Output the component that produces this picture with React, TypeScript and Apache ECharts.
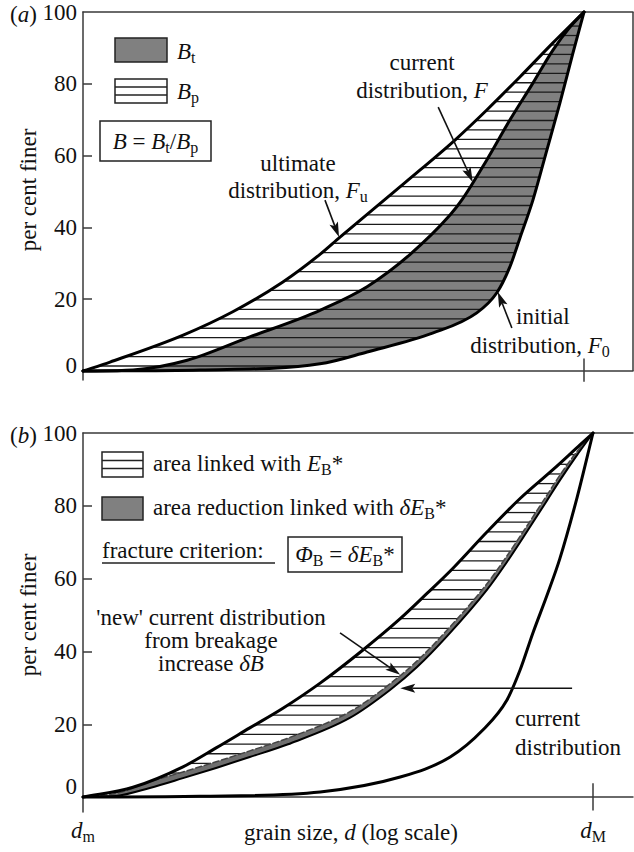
import React, { useEffect, useRef } from 'react';
import * as echarts from 'echarts';

const FONT = 'Liberation Serif, serif';
const INK = '#111';
const AXIS = '#3a3a3a';
const GREY = '#808080';

// ---------- panel (a): x is position between d_m (0) and d_M (1) on the log scale ----------
const aUltX = [0, 0.054, 0.2, 0.299, 0.399, 0.473, 0.513, 0.619, 0.673, 0.743, 0.806, 0.872, 0.938, 1];
const aUltY = [0, 2.5, 10, 16.5, 24.8, 32.5, 37.3, 49.7, 56, 64.4, 72.7, 81.9, 91.4, 100];
const aCurX = [0, 0.1, 0.208, 0.333, 0.433, 0.473, 0.567, 0.653, 0.733, 0.758, 0.806, 0.852, 0.898, 0.938, 0.972, 1];
const aCurY = [0, 0.3, 3, 9.5, 14.6, 16.9, 23.5, 32.5, 43.5, 48, 58.8, 69.9, 80.2, 89.4, 95.8, 100];
const aIniX = [0, 0.234, 0.473, 0.567, 0.699, 0.786, 0.826, 0.852, 0.872, 0.898, 0.926, 0.952, 0.978, 1];
const aIniY = [0, 0.3, 2, 5.3, 10.6, 16.2, 21.8, 29, 37, 47.6, 61.6, 74.7, 88.6, 100];

// ---------- panel (b) ----------
const bUpX = [0, 0.098, 0.196, 0.261, 0.327, 0.392, 0.465, 0.549, 0.622, 0.675, 0.725, 0.792, 0.857, 0.922, 0.975, 1];
const bUpY = [0, 2.7, 8.3, 13.5, 19, 24.4, 31.3, 40.4, 49, 56, 62.8, 72.8, 82, 90, 96.8, 100];
const bNewX = [0, 0.065, 0.131, 0.196, 0.261, 0.327, 0.402, 0.524, 0.602, 0.655, 0.714, 0.792, 0.831, 0.871, 0.91, 0.935, 0.969, 1];
const bNewY = [0, 0.3, 2.5, 5.2, 8, 11, 14.5, 21.8, 29.4, 35.7, 44.2, 56.9, 64.5, 73, 81.5, 87, 94, 100];
const bNewTopY = [0, 1, 4.2, 6.9, 9.7, 12.7, 16.2, 23.5, 31.1, 37.4, 45.9, 58.6, 66.2, 74.6, 83, 88.4, 95, 100];
const bCurX = [0, 0.229, 0.465, 0.622, 0.72, 0.784, 0.831, 0.857, 0.882, 0.91, 0.935, 0.969, 1];
const bCurY = [0, 0.2, 1.4, 5.5, 11, 18.4, 26.6, 34.9, 45, 55.5, 65.5, 82.4, 100];

const yTickLabels = [0, 20, 40, 60, 80, 100];
const yTickMarks = [20, 40, 60, 80];
const xEnds = [0, 1]; // d_m, d_M

// annotation arrows [from, to] in data coordinates
const aArrows = [
  [[0.709, 73.5], [0.778, 52.6]],
  [[0.483, 47.6], [0.511, 37.3]],
  [[0.856, 12], [0.828, 22]],
];
const bArrows = [
  [[0.504, 45.1], [0.622, 33.6]],
  [[0.959, 29.9], [0.622, 29.9]],
];

const X_MAX_A = 550 / 501;
const X_MAX_B = 550 / 510;

// ---------- smooth (monotone cubic) rendering helpers, in pixel space ----------
type Curve = { px: number[]; py: number[]; m: number[] };
function mono(px: number[], py: number[]) {
  const n = px.length;
  const d: number[] = [];
  const m: number[] = new Array(n).fill(0);
  for (let k = 0; k < n - 1; k++) d[k] = (py[k + 1] - py[k]) / (px[k + 1] - px[k]);
  m[0] = d[0];
  m[n - 1] = d[n - 2];
  for (let k = 1; k < n - 1; k++) m[k] = d[k - 1] * d[k] <= 0 ? 0 : (d[k - 1] + d[k]) / 2;
  for (let k = 0; k < n - 1; k++) {
    if (d[k] === 0) { m[k] = 0; m[k + 1] = 0; continue; }
    const a = m[k] / d[k], b = m[k + 1] / d[k];
    const s = a * a + b * b;
    if (s > 9) { const t = 3 / Math.sqrt(s); m[k] = t * a * d[k]; m[k + 1] = t * b * d[k]; }
  }
  return m;
}
function build(api: any, xs: number[], ys: number[]): Curve {
  const pts = xs.map((x, i) => api.coord([x, ys[i]]));
  const px = pts.map((p: number[]) => p[0]);
  const py = pts.map((p: number[]) => p[1]);
  return { px, py, m: mono(px, py) };
}
function ctrl(c: Curve, k: number) {
  const h = c.px[k + 1] - c.px[k];
  return [c.px[k] + h / 3, c.py[k] + (c.m[k] * h) / 3, c.px[k + 1] - h / 3, c.py[k + 1] - (c.m[k + 1] * h) / 3];
}
const f = (v: number) => v.toFixed(2);
function fwd(c: Curve) {
  let s = '';
  for (let k = 0; k < c.px.length - 1; k++) {
    const [a, b, e, g] = ctrl(c, k);
    s += `C${f(a)},${f(b)} ${f(e)},${f(g)} ${f(c.px[k + 1])},${f(c.py[k + 1])}`;
  }
  return s;
}
function bwd(c: Curve) {
  let s = '';
  for (let k = c.px.length - 2; k >= 0; k--) {
    const [a, b, e, g] = ctrl(c, k);
    s += `C${f(e)},${f(g)} ${f(a)},${f(b)} ${f(c.px[k])},${f(c.py[k])}`;
  }
  return s;
}
const lineD = (c: Curve) => `M${f(c.px[0])},${f(c.py[0])}` + fwd(c);
function bandD(lo: Curve, hi: Curve) {
  const n = hi.px.length - 1;
  return `M${f(lo.px[0])},${f(lo.py[0])}` + fwd(lo) + `L${f(hi.px[n])},${f(hi.py[n])}` + bwd(hi) + 'Z';
}
function herm(y0: number, y1: number, m0: number, m1: number, h: number, t: number) {
  const t2 = t * t, t3 = t2 * t;
  return (2 * t3 - 3 * t2 + 1) * y0 + (t3 - 2 * t2 + t) * h * m0 + (-2 * t3 + 3 * t2) * y1 + (t3 - t2) * h * m1;
}
function xAtPixY(c: Curve, y: number) {
  for (let k = 0; k < c.px.length - 1; k++) {
    const y0 = c.py[k], y1 = c.py[k + 1];
    if (y0 !== y1 && (y - y0) * (y - y1) <= 0) {
      const h = c.px[k + 1] - c.px[k];
      let lo = 0, hi = 1;
      const s0 = y0 - y;
      for (let it = 0; it < 40; it++) {
        const mid = (lo + hi) / 2;
        const v = herm(y0, y1, c.m[k], c.m[k + 1], h, mid) - y;
        if (v * s0 > 0) lo = mid; else hi = mid;
      }
      return c.px[k] + ((lo + hi) / 2) * h;
    }
  }
  return c.px[c.px.length - 1];
}
function hatch(api: any, left: Curve, right: Curve, start: number, step: number) {
  const out: any[] = [];
  for (let h = start; h < 99.6; h += step) {
    const y = api.coord([0, h])[1];
    const x1 = xAtPixY(left, y), x2 = xAtPixY(right, y);
    if (x2 > x1) out.push({ type: 'line', shape: { x1, y1: y, x2, y2: y }, style: { stroke: '#1a1a1a', lineWidth: 1.3 } });
  }
  return out;
}
function arrowShapes(api: any, from: number[], to: number[]) {
  const p1 = api.coord(from), p2 = api.coord(to);
  const dx = p2[0] - p1[0], dy = p2[1] - p1[1];
  const Ln = Math.hypot(dx, dy);
  const ux = dx / Ln, uy = dy / Ln, nx = -uy, ny = ux;
  const len = 15, hw = 4.5, notch = 12;
  const bx = p2[0] - ux * len, by = p2[1] - uy * len;
  const mx = p2[0] - ux * notch, my = p2[1] - uy * notch;
  return [
    { type: 'line', shape: { x1: p1[0], y1: p1[1], x2: mx, y2: my }, style: { stroke: INK, lineWidth: 1.6 } },
    { type: 'polygon', shape: { points: [[p2[0], p2[1]], [bx + nx * hw, by + ny * hw], [mx, my], [bx - nx * hw, by - ny * hw]] }, style: { fill: INK } },
  ];
}
function seg(api: any, a: number[], b: number[], style: any) {
  const p1 = api.coord(a), p2 = api.coord(b);
  return { type: 'line', shape: { x1: p1[0], y1: p1[1], x2: p2[0], y2: p2[1] }, style };
}
const stroke = (c: Curve, width: number, color = '#000', dash?: number[]) => ({
  type: 'path', shape: { pathData: lineD(c) },
  style: { fill: 'none', stroke: color, lineWidth: width, lineDash: dash, lineJoin: 'round', lineCap: 'round' },
});

const RICH: any = {
  i: { fontFamily: FONT, fontSize: 23, fontStyle: 'italic', fill: INK },
  s: { fontFamily: FONT, fontSize: 16, fill: INK, padding: [12, 0, 0, 0] },
};
const T = (x: number, y: number, text: string, align = 'left', extra: any = {}) => ({
  type: 'text', x, y, silent: true, z: 10,
  style: { text, fontFamily: FONT, fontSize: 23, fill: INK, align, verticalAlign: 'middle', rich: RICH },
  ...extra,
});
const R = (x: number, y: number, w: number, h: number, fill: string) => ({
  type: 'rect', silent: true, z: 10, shape: { x, y, width: w, height: h }, style: { fill, stroke: '#222', lineWidth: 1.5 },
});
const L = (x1: number, y1: number, x2: number, y2: number, w = 1.5) => ({
  type: 'line', silent: true, z: 11, shape: { x1, y1, x2, y2 }, style: { stroke: '#222', lineWidth: w },
});

const axisLineStyle = { color: AXIS, width: 1.5 };

function yAxisCfg(gridIndex: number, min: number, zeroLift: number) {
  return {
    gridIndex, type: 'value', min, max: 100,
    axisLine: { show: true, lineStyle: axisLineStyle },
    axisTick: { show: true, inside: true, length: 9, customValues: yTickMarks, lineStyle: axisLineStyle },
    axisLabel: {
      show: true, customValues: yTickLabels, margin: 6, fontFamily: FONT, fontSize: 23, color: INK,
      formatter: (v: number) => (v === 0 ? '{z|0}' : String(v)),
      rich: { z: { fontFamily: FONT, fontSize: 23, color: INK, padding: [0, 0, zeroLift, 0] } },
    },
    splitLine: { show: false },
  };
}
function plainX(gridIndex: number, max: number, position: string, onZero: boolean) {
  return {
    gridIndex, type: 'value', min: 0, max, position,
    axisLine: { show: true, onZero, lineStyle: axisLineStyle },
    axisTick: { show: false }, axisLabel: { show: false }, splitLine: { show: false },
  };
}

export default function App() {
  const ref = useRef<HTMLDivElement>(null);
  useEffect(() => {
    document.body.style.margin = '0';
    const chart = echarts.init(ref.current!, null, { renderer: 'svg' });

    const panelA = (params: any, api: any) => {
      const U = build(api, aUltX, aUltY);
      const F = build(api, aCurX, aCurY);
      const F0 = build(api, aIniX, aIniY);
      const children: any[] = [
        { type: 'path', shape: { pathData: bandD(F, F0) }, style: { fill: GREY, stroke: 'none' } },
        ...hatch(api, U, F0, 1.4, 2.63),
        stroke(U, 3), stroke(F, 3), stroke(F0, 3),
        seg(api, [X_MAX_A, 0], [X_MAX_A, 100], { stroke: AXIS, lineWidth: 1.5 }),
        seg(api, [1, -3], [1, 3.5], { stroke: AXIS, lineWidth: 1.5 }),
      ];
      aArrows.forEach((a) => children.push(...arrowShapes(api, a[0], a[1])));
      return { type: 'group', children };
    };
    const panelB = (params: any, api: any) => {
      const U = build(api, bUpX, bUpY);
      const N = build(api, bNewX, bNewY);
      const NT = build(api, bNewX, bNewTopY);
      const C = build(api, bCurX, bCurY);
      const children: any[] = [
        { type: 'path', shape: { pathData: bandD(N, NT) }, style: { fill: '#6e6e6e', stroke: 'none' } },
        ...hatch(api, U, NT, 1.3, 2.65),
        stroke(NT, 1.5, '#444', [6, 3]),
        stroke(N, 2),
        stroke(U, 3),
        stroke(C, 3),
        seg(api, [1, -3.7], [1, 3.8], { stroke: AXIS, lineWidth: 1.5 }),
      ];
      bArrows.forEach((a) => children.push(...arrowShapes(api, a[0], a[1])));
      return { type: 'group', children };
    };

    const option: any = {
      animation: false,
      backgroundColor: '#fff',
      grid: [
        { left: 83, top: 12, width: 550, height: 368, outerBoundsMode: 'none' },
        { left: 83, top: 433, width: 550, height: 379, outerBoundsMode: 'none' },
      ],
      xAxis: [
        plainX(0, X_MAX_A, 'bottom', true),
        plainX(0, X_MAX_A, 'top', false),
        {
          gridIndex: 1, type: 'value', min: 0, max: X_MAX_B, position: 'bottom',
          axisLine: { show: true, onZero: true, lineStyle: axisLineStyle },
          axisTick: { show: false },
          axisLabel: {
            show: true, customValues: xEnds, margin: 4, fontFamily: FONT, fontSize: 23, color: INK,
            formatter: (v: number) => (v === 0 ? '{i|d}{s|m}' : '{i|d}{s|M}'),
            rich: {
              i: { fontFamily: FONT, fontSize: 23, fontStyle: 'italic', color: INK },
              s: { fontFamily: FONT, fontSize: 16, color: INK, padding: [12, 0, 0, 0] },
            },
          },
          splitLine: { show: false },
        },
        plainX(1, X_MAX_B, 'top', false),
      ],
      yAxis: [yAxisCfg(0, -2.5, 12), yAxisCfg(1, -4.1, 22)],
      series: [
        { name: 'grading curves (a)', type: 'custom', xAxisIndex: 0, yAxisIndex: 0, data: [[0, 0]], renderItem: panelA, silent: true, z: 2, clip: false },
        { name: 'grading curves (b)', type: 'custom', xAxisIndex: 2, yAxisIndex: 1, data: [[0, 0]], renderItem: panelB, silent: true, z: 2, clip: false },
      ],
      graphic: [
        // panel (a)
        T(10, 14, '({i|a})'),
        T(28, 190, 'per cent finer', 'center', { rotation: Math.PI / 2 }),
        R(115, 38, 52, 24, GREY),
        T(177, 51, '{i|B}{s|t}'),
        R(115, 79, 52, 24, '#fff'),
        L(115, 87, 167, 87, 1.3),
        L(115, 95, 167, 95, 1.3),
        T(177, 91, '{i|B}{s|p}'),
        R(100, 121, 111, 40, 'rgba(0,0,0,0)'),
        T(155.5, 141, '{i|B} = {i|B}{s|t}/{i|B}{s|p}', 'center'),
        T(422, 62, 'current', 'center'),
        T(422, 90, 'distribution, {i|F}', 'center'),
        T(298, 163, 'ultimate', 'center'),
        T(298, 190, 'distribution, {i|F}{s|u}', 'center'),
        T(516, 316, 'initial'),
        T(540, 345, 'distribution, {i|F}{s|0}', 'center'),
        // panel (b)
        T(10, 435, '({i|b})'),
        T(28, 615, 'per cent finer', 'center', { rotation: Math.PI / 2 }),
        R(102, 452, 41, 25, '#fff'),
        L(102, 460.5, 143, 460.5, 1.3),
        L(102, 468.5, 143, 468.5, 1.3),
        T(153, 463, 'area linked with {i|E}{s|B}*'),
        R(102, 497, 41, 23, GREY),
        T(153, 507, 'area reduction linked with {i|δE}{s|B}*'),
        T(102, 550, 'fracture criterion:'),
        L(102, 563, 275, 563, 1.5),
        R(288, 537, 114, 35, 'rgba(0,0,0,0)'),
        T(345, 554, '{i|Φ}{s|B} = {i|δE}{s|B}*', 'center'),
        T(211, 617, "'new' current distribution", 'center'),
        T(211, 640, 'from breakage', 'center'),
        T(211, 663, 'increase {i|δB}', 'center'),
        T(515, 718, 'current'),
        T(515, 747, 'distribution'),
        T(351, 832, 'grain size, {i|d} (log scale)', 'center'),
      ],
    };
    chart.setOption(option);
    return () => chart.dispose();
  }, []);
  return <div ref={ref} style={{ width: 634, height: 852 }} />;
}
